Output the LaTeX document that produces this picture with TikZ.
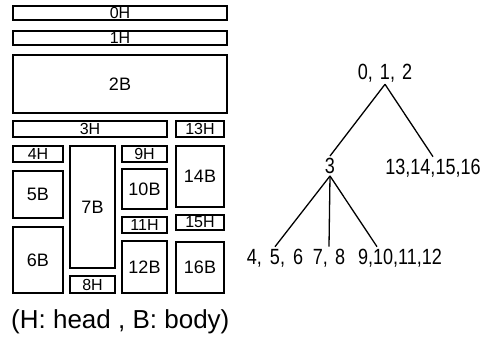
\documentclass[tikz,border=0pt]{standalone}
\usepackage{fontspec}
\setmainfont{Liberation Sans}
\newfontfamily\narrowfont[FakeStretch=0.82]{Liberation Sans}
\newcommand\gap[1]{,\hspace{#1}}
\begin{document}
\begin{tikzpicture}[x=1pt,y=-1pt,
  blk/.style={draw, line width=1.6pt, anchor=north west, inner sep=0pt, outer sep=0pt},
  hd/.style={blk, font=\fontsize{16}{16}\selectfont},
  bd/.style={blk, font=\fontsize{18}{18}\selectfont},
  lbl/.style={inner sep=2pt, font=\narrowfont\fontsize{22}{22}\selectfont},
  edge/.style={line width=1.3pt}]
\useasboundingbox (0,0) rectangle (495,345);
% memory layout: heads (H) and bodies (B)
\node[hd, minimum width=214pt, minimum height=14pt] (b0) at (13,6) {\raisebox{-1.5pt}{0H}};
\node[hd, minimum width=214pt, minimum height=14pt] (b1) at (13,31) {\raisebox{-1.5pt}{1H}};
\node[bd, minimum width=214pt, minimum height=58pt] (b2) at (13,55) {2B};
\node[hd, minimum width=154pt, minimum height=16pt] (b3) at (13,121) {\raisebox{-1.5pt}{3H}};
\node[hd, minimum width=48pt, minimum height=16pt] (b13) at (176,121) {\raisebox{-1.5pt}{13H}};
\node[hd, minimum width=50pt, minimum height=16pt] (b4) at (13,146) {\raisebox{-1.5pt}{4H}};
\node[bd, minimum width=50pt, minimum height=47pt] (b5) at (13,171) {5B};
\node[bd, minimum width=50pt, minimum height=66pt] (b6) at (13,227) {6B};
\node[bd, minimum width=45pt, minimum height=122pt] (b7) at (70,146) {7B};
\node[hd, minimum width=45pt, minimum height=17pt] (b8) at (70,276) {\raisebox{-1.5pt}{8H}};
\node[hd, minimum width=45pt, minimum height=16pt] (b9) at (122,146) {\raisebox{-1.5pt}{9H}};
\node[bd, minimum width=45pt, minimum height=40pt] (b10) at (122,169) {10B};
\node[hd, minimum width=45pt, minimum height=16pt] (b11) at (122,217) {\raisebox{-1.5pt}{11H}};
\node[bd, minimum width=45pt, minimum height=52pt] (b12) at (122,241) {12B};
\node[bd, minimum width=48pt, minimum height=61pt] (b14) at (176,146) {14B};
\node[hd, minimum width=48pt, minimum height=15pt] (b15) at (176,215) {\raisebox{-1.5pt}{15H}};
\node[bd, minimum width=48pt, minimum height=51pt] (b16) at (176,242) {16B};
\node[font=\fontsize{26}{26}\selectfont, anchor=west, inner sep=0pt] (cap) at (11,322) {(H: head , B: body)};
% tree of groups
\node[lbl] (r) at (385,73) {0\gap{7pt}1\gap{7pt}2};
\node[lbl] (c3) at (330,166) {3};
\node[lbl] (c13) at (433,168) {13,14,15,16};
\node[lbl] (l4) at (275,258) {4\gap{8pt}5\gap{8pt}6};
\node[lbl] (l7) at (329,258) {7\gap{7pt}8};
\node[lbl] (l9) at (400,258) {9,10,11,12};
\draw[edge] (r.south) -- (c3.north);
\draw[edge] (r.south) -- (c13.north);
\draw[edge] (c3.south) -- (l4.north);
\draw[edge] (c3.south) -- (l7.north);
\draw[edge] (c3.south) -- ([xshift=-23pt]l9.north);
\end{tikzpicture}
\end{document}
